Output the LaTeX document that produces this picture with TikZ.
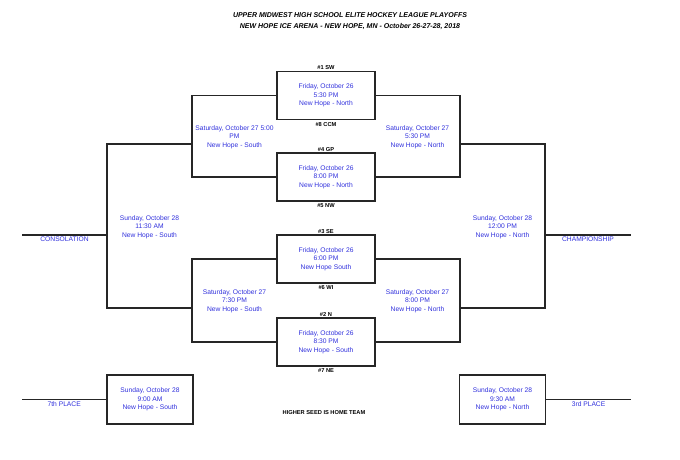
\documentclass[tikz,border=0pt]{standalone}
\usepackage{fontspec}
\setmainfont{Liberation Sans}
\usetikzlibrary{positioning}
\definecolor{Ink}{HTML}{262626}
\definecolor{Slot}{HTML}{3030DC}
\tikzset{game/.style={draw=Ink,line width=1.2pt,minimum width=98pt,minimum height=48pt,align=center,text=Slot,font=\fontsize{6.7}{8.6}\selectfont,inner sep=0pt},info/.style={align=center,text=Slot,font=\fontsize{6.7}{8.6}\selectfont,inner sep=0pt},seed/.style={font=\fontsize{5.7}{6.8}\selectfont\bfseries,inner sep=1pt},wire/.style={draw=Ink,line width=1.2pt},tag/.style={text=Slot,font=\fontsize{6.7}{8}\selectfont,inner sep=1.5pt}}

\begin{document}
\begin{tikzpicture}[x=1pt,y=-1pt]
        \useasboundingbox(0,0)rectangle(680,459);
        \node[font=\fontsize{7}{11}\selectfont\bfseries\itshape,align=center](title)at(350,21.5){UPPER MIDWEST HIGH SCHOOL ELITE HOCKEY LEAGUE PLAYOFFS\\NEW HOPE ICE ARENA - NEW HOPE, MN - October 26-27-28, 2018};
        % first round
        \node[game](g1)at(326,95.5){Friday, October 26\\5:30 PM\\New Hope - North};
        \node[game](g2)at(326,177){Friday, October 26\\8:00 PM\\New Hope - North};
        \node[game](g3)at(326,259){Friday, October 26\\6:00 PM\\New Hope South};
        \node[game](g4)at(326,342){Friday, October 26\\8:30 PM\\New Hope - South};
        \node[seed,above=0pt of g1](n1){\#1 SW};
        \node[seed,below=1pt of g1](n8){\#8 CCM};
        \node[seed,above=0pt of g2](n4){\#4 GP};
        \node[seed,below=1pt of g2](n5){\#5 NW};
        \node[seed,above=0pt of g3](n3){\#3 SE};
        \node[seed,below=1pt of g3](n6){\#6 WI};
        \node[seed,above=0pt of g4](n2){\#2 N};
        \node[seed,below=1pt of g4](n7){\#7 NE};
        % brackets
        \coordinate(qa)at(192,144);
        \coordinate(qb)at(192,308);
        \coordinate(qc)at(460,144);
        \coordinate(qd)at(460,308);
        \coordinate(sa)at(107,235);
        \coordinate(sb)at(545,235);
        \coordinate(cons)at(22,235);
        \coordinate(champ)at(631,235);
        \draw[wire](g1.west)-|(qa)|-(g2.west);
        \draw[wire](g1.east)-|(qc)|-(g2.east);
        \draw[wire](g3.west)-|(qb)|-(g4.west);
        \draw[wire](g3.east)-|(qd)|-(g4.east);
        \draw[wire](qa)-|(sa)|-(qb);
        \draw[wire](qc)-|(sb)|-(qd);
        \draw[wire](sa)--node[tag,below]{CONSOLATION}(cons);
        \draw[wire](sb)--node[tag,below]{CHAMPIONSHIP}(champ);
        \node[info](q1)at(234.5,137){Saturday, October 27 5:00\\PM\\New Hope - South};
        \node[info](q2)at(417.5,137){Saturday, October 27\\5:30 PM\\New Hope - North};
        \node[info](q3)at(234.5,301){Saturday, October 27\\7:30 PM\\New Hope - South};
        \node[info](q4)at(417.5,301){Saturday, October 27\\8:00 PM\\New Hope - North};
        \node[info](s1)at(149.5,227){Sunday, October 28\\11:30 AM\\New Hope - South};
        \node[info](s2)at(502.5,227){Sunday, October 28\\12:00 PM\\New Hope - North};
        % placement games
        \node[game,minimum width=86pt,minimum height=49pt](p7)at(150,399.5){Sunday, October 28\\9:00 AM\\New Hope - South};
        \node[game,minimum width=86pt,minimum height=49pt](p3)at(502.5,399.5){Sunday, October 28\\9:30 AM\\New Hope - North};
        \coordinate(seventh)at(22,399.5);
        \coordinate(third)at(631,399.5);
        \draw[wire](p7.west)--node[tag,below]{7th PLACE}(seventh);
        \draw[wire](p3.east)--node[tag,below]{3rd PLACE}(third);
        \node[seed](note)at(324,413){HIGHER SEED IS HOME TEAM};
      \end{tikzpicture}
\end{document}
